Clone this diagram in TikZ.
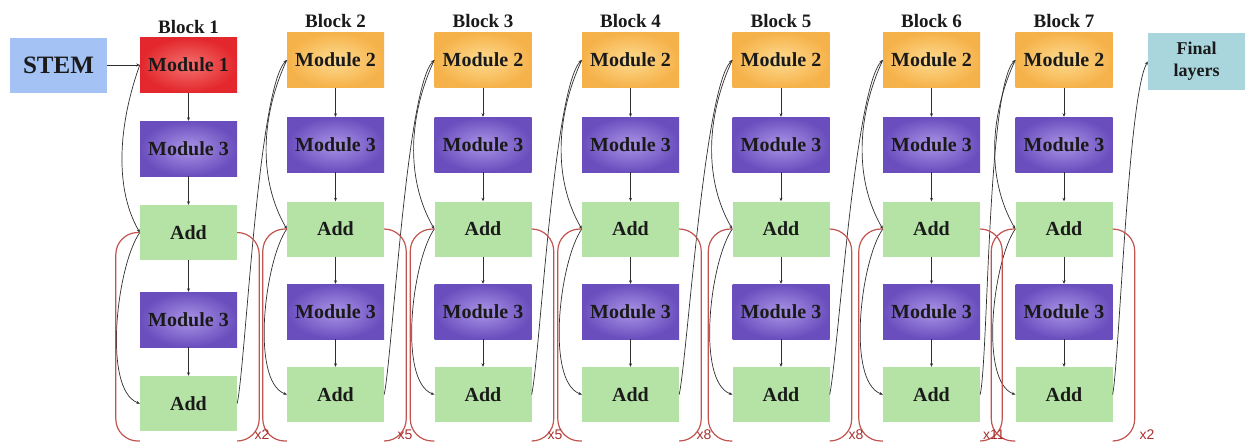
\documentclass[tikz,border=0pt]{standalone}
\usepackage{fontspec}
\setmainfont{Liberation Serif}
\newfontfamily\labelsans{Liberation Sans}
\usetikzlibrary{arrows.meta}

\definecolor{redin}{HTML}{F4716E}
\definecolor{redout}{HTML}{E3272C}
\definecolor{orin}{HTML}{FDDB90}
\definecolor{orout}{HTML}{F6B24A}
\definecolor{puin}{HTML}{AA94E6}
\definecolor{puout}{HTML}{6A4EBE}
\definecolor{addfill}{HTML}{B5E3A6}
\definecolor{stemfill}{HTML}{A4C2F4}
\definecolor{finalfill}{HTML}{A9D6DD}
\definecolor{linkcol}{HTML}{2E2E2E}
\definecolor{brkcol}{HTML}{C25450}
\definecolor{repcol}{HTML}{A8302C}
\definecolor{txtcol}{HTML}{1A1A1A}

\tikzset{
  box/.style={rectangle, minimum width=97pt, minimum height=55pt, inner sep=0pt,
    text=txtcol, font=\bfseries\fontsize{20}{24}\selectfont},
  modone/.style={box, inner color=redin, outer color=redout},
  modtwo/.style={box, inner color=orin, outer color=orout},
  modthree/.style={box, inner color=puin, outer color=puout},
  addbox/.style={box, fill=addfill},
  blocklbl/.style={text=txtcol, font=\bfseries\fontsize{19}{22}\selectfont},
  conn/.style={draw=linkcol, line width=0.7pt, -{Stealth[length=3.5pt,width=3pt]}},
  brk/.style={draw=brkcol, line width=1.2pt, rounded corners=22pt},
  reps/.style={text=repcol, inner sep=0pt, anchor=base, font=\labelsans\fontsize{14}{16}\selectfont}
}

\begin{document}
\begin{tikzpicture}[x=1pt,y=1pt]
\useasboundingbox (0,0) rectangle (1245,-442);
\coordinate (base) at (0,-441);

% input stem and first block
\node[box, fill=stemfill, font=\bfseries\fontsize{25}{28}\selectfont] (stem) at (58.5,-65) {STEM};
\node[blocklbl] (lbl1) at (188.5,-27) {Block 1};
\node[modone]   (top1)  at (188.5,-65)    {Module 1};
\node[modthree] (mid1)  at (188.5,-148.5) {Module 3};
\node[addbox]   (addA1) at (188.5,-232.5) {Add};
\node[modthree] (low1)  at (188.5,-319.5) {Module 3};
\node[addbox]   (addB1) at (188.5,-403.5) {Add};

% blocks 2 to 7
\foreach \n/\x in {2/335.5,3/483,4/630.5,5/781,6/931.5,7/1064} {
  \node[blocklbl] (lbl\n) at (\x,-21) {Block \n};
  \node[modtwo]   (top\n)  at (\x,-60)    {Module 2};
  \node[modthree] (mid\n)  at (\x,-144.5) {Module 3};
  \node[addbox]   (addA\n) at (\x,-229)   {Add};
  \node[modthree] (low\n)  at (\x,-311.5) {Module 3};
  \node[addbox]   (addB\n) at (\x,-394.5) {Add};
}

% output head
\node[box, fill=finalfill, minimum height=57pt, align=center,
      font=\bfseries\fontsize{18}{22}\selectfont] (final) at (1196.5,-61.5) {Final\\layers};

% main data path inside each block
\draw[conn] (stem) -- (top1);
\foreach \n in {1,...,7} {
  \draw[conn] (top\n) -- (mid\n);
  \draw[conn] (mid\n) -- (addA\n);
  \draw[conn] (addA\n) -- (low\n);
  \draw[conn] (low\n) -- (addB\n);
}

% residual links of block 1
\draw[conn] (top1.west) to[out=250,in=120,looseness=0.85] (addA1.west);
\draw[conn] (addA1.west) to[out=235,in=160,looseness=0.6] (addB1.west);

% links between blocks and residual links of blocks 2 to 7
\foreach \n [evaluate=\n as \p using int(\n-1)] in {2,...,7} {
  \draw[conn] (addB\p.east) to[out=78,in=225,looseness=0.3] (top\n.west);
  \draw[conn] (top\n.west) to[out=245,in=120,looseness=0.9] (addA\n.west);
  \draw[conn] (addA\n.west) to[out=235,in=160,looseness=0.6] (addB\n.west);
}
\draw[conn] (addB7.east) to[out=80,in=240,looseness=0.3] (final.west);

% brackets around the repeated part of every block
\foreach \n in {1,...,7} {
  \draw[brk] (addA\n.west) -- ++(-24,0) |- (addA\n.west |- base);
  \draw[brk] (addA\n.east) -- ++(22,0) |- (addA\n.east |- base);
}

% repetition counts
\node[reps] (r1) at (262,-439) {x2};
\node[reps] (r2) at (405,-439) {x5};
\node[reps] (r3) at (555,-439) {x5};
\node[reps] (r4) at (704,-439) {x8};
\node[reps] (r5) at (856,-439) {x8};
\node[reps] (r6) at (994,-439) {x11};
\node[reps] (r7) at (1147,-439) {x2};
\end{tikzpicture}
\end{document}
